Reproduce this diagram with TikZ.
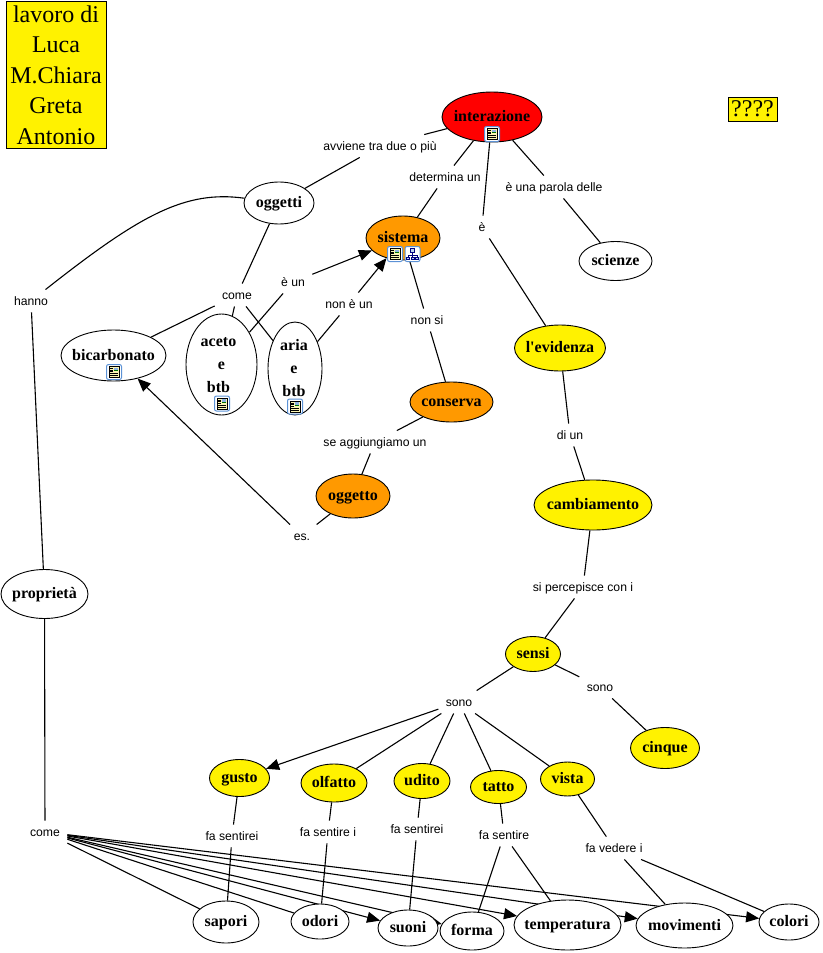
\documentclass[tikz,border=0pt]{standalone}
\usepackage{fontspec}
\usetikzlibrary{shapes.geometric,arrows.meta,backgrounds}
\newfontfamily\concfont{Liberation Serif}
\newfontfamily\linkfont{Liberation Sans}
\definecolor{cmorange}{HTML}{FF9900}
\definecolor{iconblue}{HTML}{5C92D6}
\definecolor{iconpage}{HTML}{FBF6B4}
\colorlet{navy}{blue!50!black}
\newcommand{\cl}[1]{\makebox[0pt]{\strut #1}}
\newcommand{\ct}[1]{\cl{\raisebox{-1.5pt}[0pt][0pt]{#1}}}
\tikzset{
    conc/.style={ellipse,draw,fill=white,inner sep=0pt,font=\concfont\bfseries\fontsize{16}{16}\selectfont},
    tall/.style={align=center,inner ysep=-6pt,font=\concfont\bfseries\fontsize{16}{23}\selectfont},
    link/.style={inner xsep=7pt,inner ysep=5pt,text height=10pt,text depth=2pt,font=\linkfont\fontsize{12.2}{12}\selectfont},
    note/.style={rectangle,draw,fill=yellow,align=center,inner sep=0pt,font=\concfont\fontsize{24}{30.5}\selectfont},
    arr/.style={-{Triangle[length=13pt,width=11pt]}},
    docicon/.pic={
        \draw[iconblue,fill=white,rounded corners=2pt,line width=1pt] (-7.5,-7.5) rectangle (7.5,7.5);
        \draw[fill=iconpage,line width=0.7pt] (-5,-5.5) rectangle (5,5.5);
        \fill[iconblue!70] (0,-4.5) rectangle (4.2,-1);
        \fill[green!45!black] (0,-2) rectangle (4.2,-1);
        \foreach \ly in {-3.5,-2,-0.5} \draw[line width=0.4pt] (-4,\ly) -- (-1,\ly);
        \foreach \ly in {1.5,3.5} \draw[line width=0.4pt] (-4,\ly) -- (4,\ly);
    },
    treeicon/.pic={
        \draw[iconblue,fill=white,rounded corners=2pt,line width=1pt] (-7.5,-7.5) rectangle (7.5,7.5);
        \draw[navy,line width=0.7pt] (0,-2) -- (0,3) (-4.5,3) -- (-4.5,1) -- (4.5,1) -- (4.5,3);
        \draw[navy,fill=iconblue!40,line width=0.7pt] (-2,-5.5) rectangle (2,-2);
        \foreach \lx in {-4.5,0,4.5} \draw[navy,fill=iconblue!40,line width=0.7pt] (\lx-1.6,3) rectangle (\lx+1.6,5.8);
    }
}
\begin{document}
\begin{tikzpicture}[x=1pt,y=-1pt,line width=0.9pt]
    \useasboundingbox (0,0) rectangle (822,953);
    % boxes
    \node[note,minimum width=100,minimum height=147] (autori) at (56,74.5) {\rule{0pt}{18pt}lavoro di\\Luca\\M.Chiara\\Greta\\Antonio};
    \node[note,minimum width=49,minimum height=24,font=\concfont\fontsize{24}{24}\selectfont] (domanda) at (752.5,109) {????};
    % concepts
    \node[conc,fill=red,minimum width=100,minimum height=50] (interazione) at (492,117) {\ct{interazione}};
    \node[conc,minimum width=70,minimum height=42] (oggetti) at (279,203) {\ct{oggetti}};
    \node[conc,fill=cmorange,minimum width=74,minimum height=44] (sistema) at (403,238) {\ct{sistema}};
    \node[conc,minimum width=73,minimum height=39] (scienze) at (615.5,261) {\ct{scienze}};
    \node[conc,minimum width=105,minimum height=51] (bicarbonato) at (113.5,355.5) {\ct{bicarbonato}};
    \node[conc,tall,minimum width=71,minimum height=101] (aceto) at (221.5,364.5) {\cl{aceto\hspace*{6pt}}\\\cl{e}\\\cl{btb\hspace*{6pt}}};
    \node[conc,tall,minimum width=54,minimum height=93] (aria) at (295,368.5) {\cl{aria\hspace*{2pt}}\\\cl{e\hspace*{2pt}}\\\cl{btb\hspace*{2pt}}};
    \node[conc,fill=yellow,minimum width=91,minimum height=46] (evidenza) at (560,348) {\ct{l'evidenza}};
    \node[conc,fill=cmorange,minimum width=83,minimum height=40] (conserva) at (451.5,402) {\ct{conserva}};
    \node[conc,fill=cmorange,minimum width=74,minimum height=44] (oggetto) at (353,496) {\ct{oggetto}};
    \node[conc,fill=yellow,minimum width=118,minimum height=50] (cambiamento) at (593,505) {\ct{cambiamento}};
    \node[conc,minimum width=87,minimum height=49] (proprieta) at (44.5,594) {\ct{proprietà}};
    \node[conc,fill=yellow,minimum width=55,minimum height=35] (sensi) at (533,654) {\ct{sensi}};
    \node[conc,fill=yellow,minimum width=69,minimum height=41] (cinque) at (665,748) {\ct{cinque}};
    \node[conc,fill=yellow,minimum width=60,minimum height=37] (gusto) at (239.5,778) {\ct{gusto}};
    \node[conc,fill=yellow,minimum width=66,minimum height=38] (olfatto) at (334,783) {\ct{olfatto}};
    \node[conc,fill=yellow,minimum width=56,minimum height=35] (udito) at (422,781) {\ct{udito}};
    \node[conc,fill=yellow,minimum width=56,minimum height=33] (tatto) at (498.5,787) {\ct{tatto}};
    \node[conc,fill=yellow,minimum width=54,minimum height=34] (vista) at (567.5,779) {\ct{vista}};
    \node[conc,minimum width=66,minimum height=42] (sapori) at (226,922) {\ct{sapori}};
    \node[conc,minimum width=58,minimum height=35] (odori) at (320,921.5) {\ct{odori}};
    \node[conc,minimum width=60,minimum height=36] (suoni) at (408,928) {\ct{suoni}};
    \node[conc,minimum width=64,minimum height=38] (forma) at (472,931) {\ct{forma}};
    \node[conc,minimum width=107,minimum height=50] (temperatura) at (567.5,925) {\ct{temperatura}};
    \node[conc,minimum width=97,minimum height=45] (movimenti) at (684.5,925.5) {\ct{movimenti}};
    \node[conc,minimum width=60,minimum height=36] (colori) at (789,922) {\ct{colori}};
    % links
    \node[link] (avviene) at (380,146) {avviene tra due o più};
    \node[link] (determina) at (445,177) {determina un};
    \node[link] (parola) at (554,187) {è una parola delle};
    \node[link] (e) at (482,227) {è};
    \node[link] (comeA) at (237,295) {come};
    \node[link] (eun) at (293,282) {è un};
    \node[link] (noneun) at (349,304) {non è un};
    \node[link] (hanno) at (31,301) {hanno};
    \node[link] (nonsi) at (427,320) {non si};
    \node[link] (aggiungiamo) at (375,442) {se aggiungiamo un};
    \node[link] (diun) at (570,435) {di un};
    \node[link] (percepisce) at (583,587) {si percepisce con i};
    \node[link] (es) at (302,536) {es.};
    \node[link] (sonoA) at (459,702) {sono};
    \node[link] (sonoB) at (600,687) {sono};
    \node[link] (fagusto) at (232,836) {fa sentirei};
    \node[link] (faolfatto) at (328,832) {fa sentire i};
    \node[link] (faudito) at (417,829) {fa sentirei};
    \node[link] (fatatto) at (504,835) {fa sentire};
    \node[link] (favista) at (614,848) {fa vedere i};
    \node[link] (comeB) at (45,832) {come};
    % icons
    \pic at (492,134) {docicon};
    \pic at (395,254) {docicon};
    \pic at (412.5,254) {treeicon};
    \pic at (114,372) {docicon};
    \pic at (222,403.5) {docicon};
    \pic at (295,406.5) {docicon};
    % connectors
    \begin{pgfonlayer}{background}
    \begin{scope}[line width=1.1pt]
    \draw (interazione) -- (avviene);
    \draw (avviene) -- (oggetti);
    \draw (interazione) -- (determina);
    \draw (determina) -- (sistema);
    \draw (interazione) -- (e);
    \draw (e) -- (evidenza);
    \draw (interazione) -- (parola);
    \draw (parola) -- (scienze);
    \draw (oggetti) .. controls (185,190) and (140,215) .. (hanno);
    \draw (hanno) -- (proprieta);
    \draw (proprieta) -- (comeB);
    \draw (oggetti) -- (comeA);
    \draw (comeA) -- (bicarbonato);
    \draw (comeA) -- (aceto);
    \draw (comeA) -- (aria);
    \draw (aceto) -- (eun);
    \draw[arr] (eun) -- (sistema);
    \draw (aria) -- (noneun);
    \draw[arr] (noneun) -- (sistema);
    \draw (sistema) -- (nonsi);
    \draw (nonsi) -- (conserva);
    \draw (conserva) -- (aggiungiamo);
    \draw (aggiungiamo) -- (oggetto);
    \draw (oggetto) -- (es);
    \draw[arr] (es) -- (bicarbonato);
    \draw (evidenza) -- (diun);
    \draw (diun) -- (cambiamento);
    \draw (cambiamento) -- (percepisce);
    \draw (percepisce) -- (sensi);
    \draw (sensi) -- (sonoA);
    \draw (sensi) -- (sonoB);
    \draw (sonoB) -- (cinque);
    \draw[arr] (sonoA) -- (gusto);
    \draw (sonoA) -- (olfatto);
    \draw (sonoA) -- (udito);
    \draw (sonoA) -- (tatto);
    \draw (sonoA) -- (vista);
    \draw (gusto) -- (fagusto);
    \draw (fagusto) -- (sapori);
    \draw (olfatto) -- (faolfatto);
    \draw (faolfatto) -- (odori);
    \draw (udito) -- (faudito);
    \draw (faudito) -- (suoni);
    \draw (tatto) -- (fatatto);
    \draw (fatatto) -- (forma);
    \draw (fatatto) -- (temperatura);
    \draw (vista) -- (favista);
    \draw (favista) -- (movimenti);
    \draw (favista) -- (colori);
    \draw (comeB) -- (sapori);
    \draw (comeB) -- (odori);
    \draw[arr] (comeB) -- (suoni);
    \draw[arr] (comeB) -- (forma);
    \draw[arr] (comeB) -- (temperatura);
    \draw[arr] (comeB) -- (movimenti);
    \draw[arr] (comeB) -- (colori);
    \end{scope}
    \end{pgfonlayer}
\end{tikzpicture}
\end{document}
